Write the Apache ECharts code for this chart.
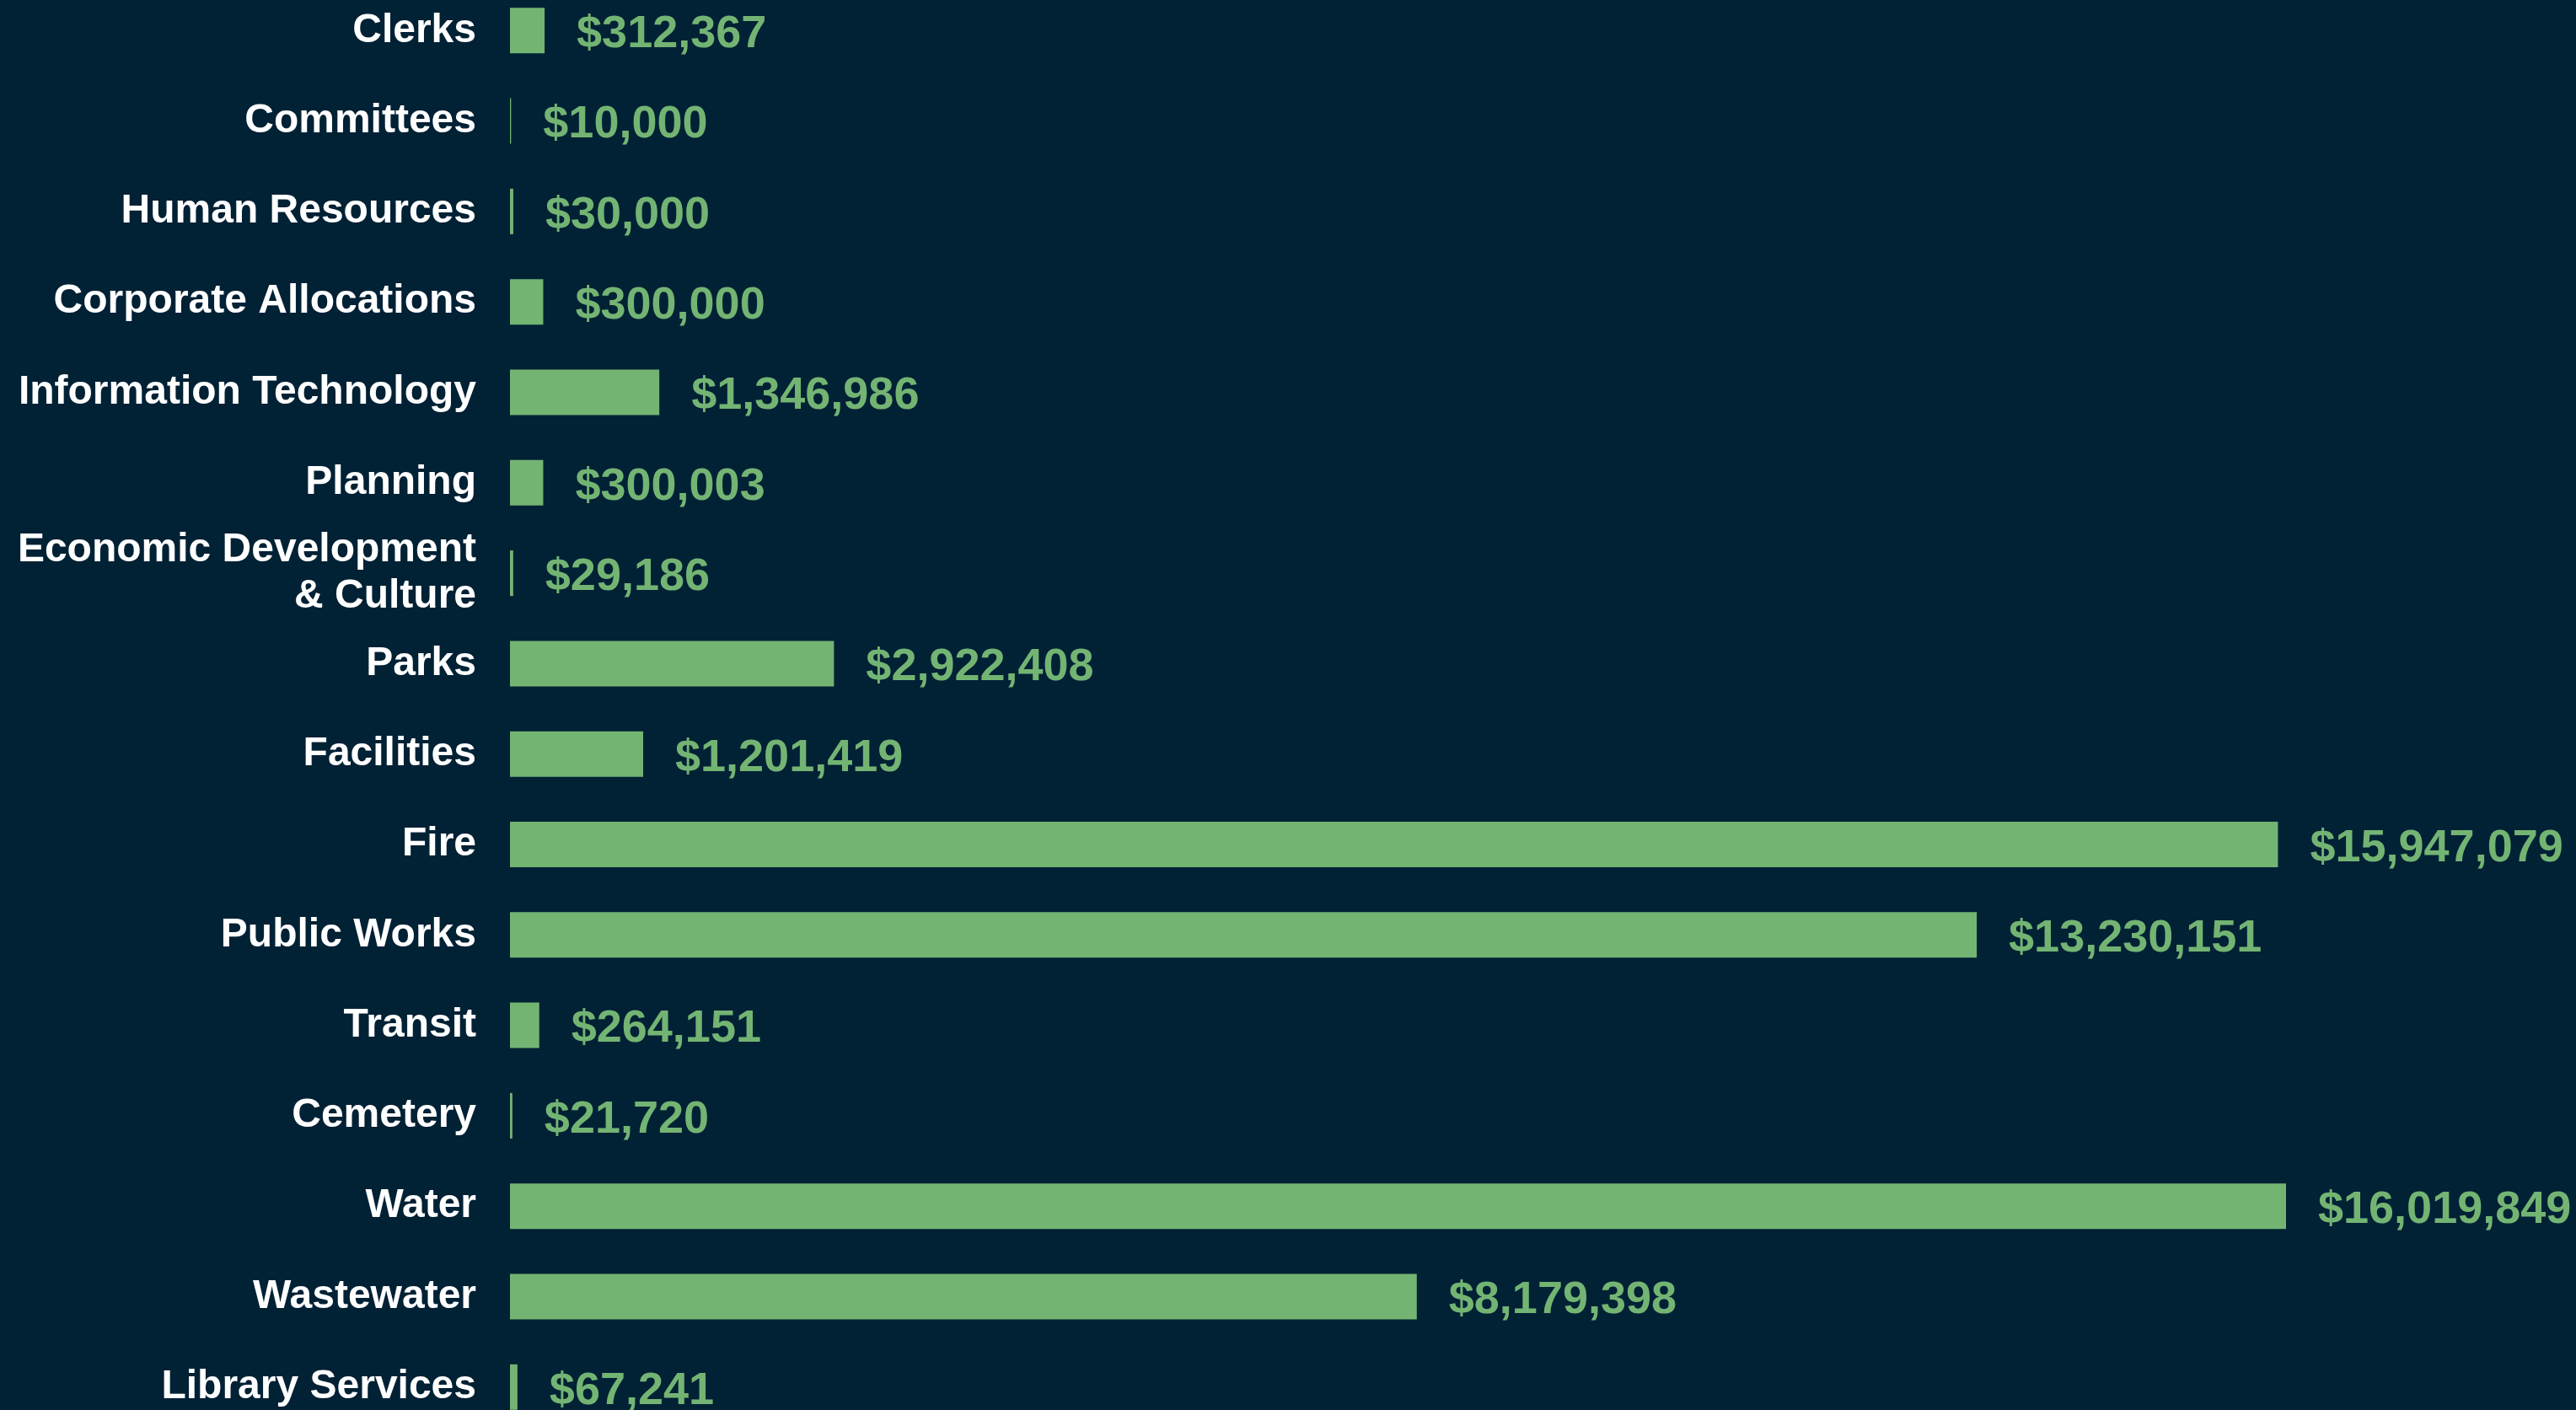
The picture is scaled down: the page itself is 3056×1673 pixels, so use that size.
<!DOCTYPE html>
<html>
<head>
<meta charset="utf-8">
<script src="https://cdn.jsdelivr.net/npm/echarts@6/dist/echarts.min.js"></script>
<style>
html,body{margin:0;padding:0;background:#012135;}
#chart{width:3056px;height:1673px;}
</style>
</head>
<body>
<div id="chart"></div>
<script>
const categories = [
  "Clerks", "Committees", "Human Resources", "Corporate Allocations",
  "Information Technology", "Planning", "Economic Development\n& Culture",
  "Parks", "Facilities", "Fire", "Public Works", "Transit", "Cemetery",
  "Water", "Wastewater", "Library Services"
];
const values = [
  312367, 10000, 30000, 300000, 1346986, 300003, 29186, 2922408,
  1201419, 15947079, 13230151, 264151, 21720, 16019849, 8179398, 67241
];

const chart = echarts.init(document.getElementById('chart'), null, {renderer: 'canvas'});
const xMax = 18000000;
const pxPerUnit = 2107 / 16019849;
const band = 107.3;

chart.setOption({
  backgroundColor: '#012135',
  animation: false,
  grid: {
    left: 605,
    top: 36.3 - band / 2,
    width: xMax * pxPerUnit,
    height: band * categories.length,
    containLabel: false,
    outerBoundsMode: 'none'
  },
  xAxis: {
    type: 'value',
    min: 0,
    max: xMax,
    show: false
  },
  yAxis: {
    type: 'category',
    data: categories,
    inverse: true,
    axisLine: {show: false},
    axisTick: {show: false},
    splitLine: {show: false},
    axisLabel: {
      color: '#ffffff',
      fontFamily: 'Liberation Sans',
      fontWeight: 'bold',
      fontSize: 48,
      lineHeight: 55,
      margin: 40,
      padding: [12, 0, 0, 0],
      align: 'right'
    }
  },
  series: [{
    type: 'bar',
    data: values,
    barWidth: 54,
    itemStyle: {color: '#73b473'},
    label: {
      show: true,
      position: 'right',
      distance: 38,
      offset: [0, 5],
      color: '#73b473',
      fontFamily: 'Liberation Sans',
      fontWeight: 'bold',
      fontSize: 54,
      formatter: p => '$' + p.value.toLocaleString('en-US')
    }
  }]
});
</script>
</body>
</html>
